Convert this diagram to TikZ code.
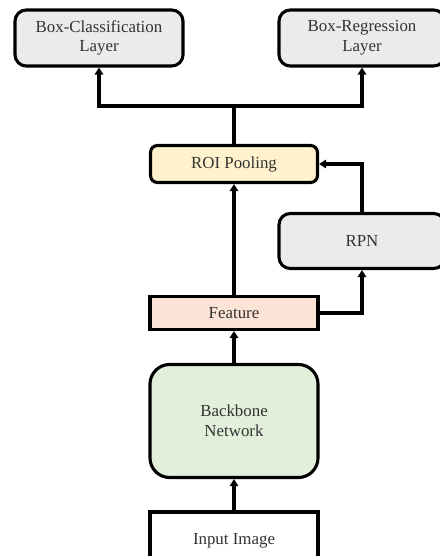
\documentclass[tikz,border=0pt]{standalone}
\usepackage{fontspec}
\setmainfont{Liberation Serif}
\usetikzlibrary{arrows.meta}
\definecolor{boxgray}{HTML}{EBEBEB}
\definecolor{roiyellow}{HTML}{FFF2CC}
\definecolor{featpeach}{HTML}{FBE3D5}
\definecolor{backgreen}{HTML}{E2EFDA}
\definecolor{txtgray}{HTML}{333333}
\begin{document}
\begin{tikzpicture}[x=0.025cm, y=-0.025cm,
    blk/.style={draw=black, line width=2.2pt, text=txtgray, align=center,
        font=\fontsize{12}{14}\selectfont, inner sep=2pt},
    arr/.style={line width=2.2pt, -{Triangle[width=6pt,length=5pt]}}]
    \useasboundingbox (0,0) rectangle (439,556);

    % Capas de salida
    \node[blk, rounded corners=8pt, fill=boxgray, minimum width=4.2cm, minimum height=1.4cm] (cls) at (99,38) {Box-Classification\\Layer};
    \node[blk, rounded corners=8pt, fill=boxgray, minimum width=4.15cm, minimum height=1.4cm] (reg) at (362,38) {Box-Regression\\Layer};

    % Bloques centrales
    \node[blk, rounded corners=5pt, fill=roiyellow, minimum width=4.175cm, minimum height=0.925cm] (roi) at (234,164) {ROI Pooling};
    \node[blk, rounded corners=8pt, fill=boxgray, minimum width=4.15cm, minimum height=1.375cm] (rpn) at (362,241) {RPN};
    \node[blk, fill=featpeach, minimum width=4.2cm, minimum height=0.825cm] (feat) at (234,313) {Feature};
    \node[blk, rounded corners=14pt, fill=backgreen, minimum width=4.2cm, minimum height=2.825cm] (bb) at (234,421) {Backbone\\Network};
    \node[blk, fill=white, minimum width=4.2cm, minimum height=1.5cm, text depth=0pt] (img) at (234,542) {\raisebox{4pt}{Input Image}};

    % Conexiones
    \coordinate (split) at (234,106);
    \draw[arr] (img) -- (bb);
    \draw[arr] (bb) -- (feat);
    \draw[arr] (feat) -- (roi);
    \draw[arr] (feat.east) -| (rpn.south);
    \draw[arr] (rpn.north) |- (roi.east);
    \draw[line width=2.2pt] (roi.north) -- (split);
    \draw[arr] (split) -| (cls.south);
    \draw[arr] (split) -| (reg.south);
\end{tikzpicture}
\end{document}
